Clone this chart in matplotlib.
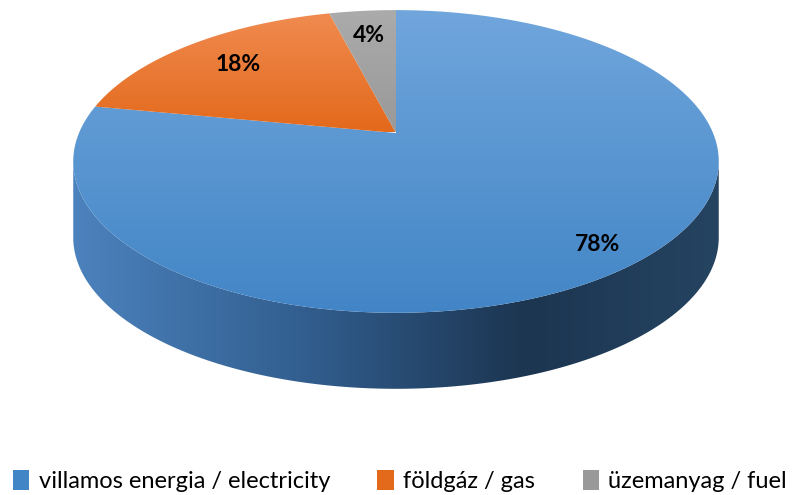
import numpy as np
import matplotlib
matplotlib.use("Agg")
import matplotlib.pyplot as plt
from matplotlib.patches import Polygon, Patch
from matplotlib.colors import LinearSegmentedColormap

categories = ["villamos energia / electricity", "földgáz / gas", "üzemanyag / fuel"]
values = [78, 18, 4]
labels = ["78%", "18%", "4%"]

W, H = 794, 495
fig = plt.figure(figsize=(W / 100, H / 100), dpi=100)
ax = fig.add_axes([0, 0, 1, 1])
ax.set_xlim(0, W)
ax.set_ylim(H, 0)
ax.axis("off")

# projection parameters (pixel space)
cx, cy = 396.0, 133.0
A, B, k = 317.0, 146.0, 0.188
D = 76.0  # depth of the side


def proj(phi, r=1.0):
    u = r * np.cos(phi)
    v = r * np.sin(phi)
    w = 1 + k * v
    return cx + A * u / w, cy - B * v / w


top_cols = [("#70A6DC", "#4285C6"), ("#F08B50", "#E3691B"), ("#ABABAB", "#999999")]
face_grad_range = [(10, 313), (12, 132), (10, 132)]

# --- side (front) ---
phiL = np.pi + np.arcsin(k)
phiR = 2 * np.pi - np.arcsin(k)
ph = np.linspace(phiL, phiR, 300)
xt, yt = proj(ph)
side_pts = np.vstack([np.column_stack([xt, yt]), np.column_stack([xt[::-1], yt[::-1] + D])])
side_poly = Polygon(side_pts, closed=True, facecolor="none", edgecolor="none")
ax.add_patch(side_poly)
side_cmap = LinearSegmentedColormap.from_list(
    "side",
    [(0.0, "#4C82BD"), (0.35, "#325F90"), (0.7, "#1C3551"), (1.0, "#254461")],
)
grad = np.linspace(0, 1, 512).reshape(1, -1)
im = ax.imshow(grad, cmap=side_cmap, extent=[xt.min(), xt.max(), yt.max() + D + 2, yt.min()],
               aspect="auto", interpolation="bilinear", zorder=1)
im.set_clip_path(side_poly)

# --- top wedges ---
total = float(sum(values))
start = np.pi / 2
for i, val in enumerate(values):
    sweep = val / total * 2 * np.pi
    a = np.linspace(start, start - sweep, max(int(val * 8), 20))
    xs, ys = proj(a)
    pts = np.vstack([[cx, cy], np.column_stack([xs, ys])])
    poly = Polygon(pts, closed=True, facecolor="none", edgecolor="none")
    ax.add_patch(poly)
    cmap = LinearSegmentedColormap.from_list("c%d" % i, [top_cols[i][0], top_cols[i][1]])
    y0, y1 = face_grad_range[i]
    g = np.linspace(0, 1, 256).reshape(-1, 1)
    im2 = ax.imshow(g, cmap=cmap, extent=[0, W, y1, y0], aspect="auto",
                    interpolation="bilinear", zorder=2)
    im2.set_clip_path(poly)
    start -= sweep

# --- labels ---
label_r = [0.87, 0.75, 0.77]
start = np.pi / 2
for i, val in enumerate(values):
    sweep = val / total * 2 * np.pi
    mid = start - sweep / 2
    lx, ly = proj(mid, label_r[i])
    ax.text(lx, ly, labels[i], ha="center", va="center", fontsize=16.5,
            fontweight="bold", family=["Lato", "DejaVu Sans"], color="black", zorder=5)
    start -= sweep

# --- legend ---
handles = [Patch(facecolor=top_cols[i][1], edgecolor="none") for i in range(3)]
leg = fig.legend(handles, categories, loc="center", bbox_to_anchor=(400 / W, 1 - 481 / H),
                 ncol=3, frameon=False, handlelength=0.7, handleheight=0.95,
                 handletextpad=0.4, columnspacing=2.0, borderpad=0.0,
                 prop={"family": ["Lato", "DejaVu Sans"], "size": 17})

fig.savefig("out.png", dpi=100)
